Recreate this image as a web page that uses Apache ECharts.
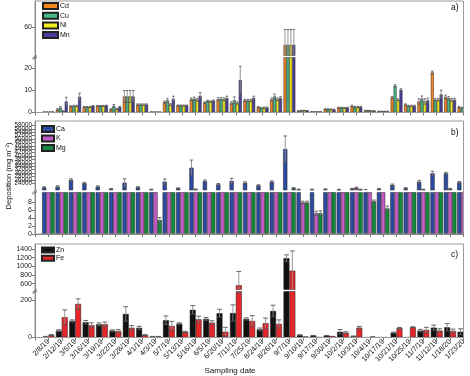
<!DOCTYPE html>
<html><head><meta charset="utf-8">
<script src="https://cdn.jsdelivr.net/npm/echarts@6/dist/echarts.min.js"></script>
<style>html,body{margin:0;padding:0;background:#fff}#c{width:470px;height:376px}</style>
</head><body><div id="c"></div>
<script>
// ---------- data ----------
const dates = ['2/8/19','2/12/19','3/5/19','3/16/19','3/19/19','3/22/19','3/28/19','4/1/19','4/3/19','5/7/19','5/13/19','5/16/19','6/5/19','6/20/19','7/11/19','7/25/19','8/24/19','8/26/19','9/7/19','9/10/19','9/17/19','9/30/19','10/2/19','10/3/19','10/4/19','10/17/19','10/21/19','10/25/19','11/7/19','11/12/19','1/18/20','1/23/20'];
const categories = [''].concat(dates);

// panel a (metals)
const cd = [0.2,1.3,2.8,2.5,3.0,1.4,7.3,3.6,0.2,4.7,3.2,6.0,4.5,6.0,4.3,5.5,2.4,5.9,52,0.7,0.4,1.5,2.2,3.0,0.9,0.5,6.8,3.6,5.0,18.2,7.1,2.4];
const cu = [0.2,2.2,3.0,2.5,3.0,3.0,7.3,3.6,0.2,5.5,3.2,6.3,5.3,6.2,5.6,5.5,2.0,7.3,52,0.9,0.3,1.5,2.2,2.5,0.9,0.5,12.1,3.0,6.3,5.8,6.5,2.1];
const ni = [0.2,0.6,3.0,2.5,3.0,1.5,7.3,3.6,0.2,3.6,3.2,5.8,5.0,6.0,4.3,5.5,2.2,6.0,52,0.9,0.3,1.4,2.1,2.5,0.8,0.5,5.8,3.0,5.0,5.8,5.8,13.0];
const mn = [0.3,5.0,7.2,3.0,3.1,2.5,7.3,3.6,0.2,6.2,3.2,7.6,5.4,6.6,14.8,6.6,2.2,6.6,52,0.8,0.3,1.3,2.2,2.5,0.7,0.5,10.3,3.0,5.5,8.2,5.8,6.0];
const cdErr = [0.05,0.4,0.3,0.2,0.2,0.3,2.7,0.3,0.05,0.5,0.2,0.6,0.3,0.7,0.6,0.5,0.3,0.6,7,0.1,0.05,0.2,0.2,0.3,0.1,0.1,0.4,0.3,1.2,0.6,0.8,0.3];
const cuErr = [0.05,0.6,0.3,0.2,0.2,0.6,2.7,0.3,0.05,0.8,0.2,0.7,0.3,0.5,1.5,0.5,0.3,1.1,7,0.1,0.05,0.2,0.2,0.3,0.1,0.1,0.5,0.3,1.2,0.5,0.7,0.3];
const niErr = [0.05,0.2,0.3,0.2,0.2,0.3,2.7,0.3,0.05,0.4,0.2,0.6,0.3,0.6,0.5,0.5,0.3,0.6,7,0.1,0.05,0.2,0.2,0.3,0.1,0.1,0.4,0.3,1.2,0.5,0.6,7.3];
const mnErr = [0.05,1.9,1.6,0.2,0.2,0.3,2.7,0.3,0.05,1.2,0.2,1.4,0.3,0.8,6.2,0.8,0.3,0.6,7,0.1,0.05,0.2,0.2,0.3,0.1,0.1,0.5,0.3,1.0,1.9,0.6,0.5];

// panel b (major ions)
const ca = [21500,22000,26000,24000,22000,20600,24300,21600,20300,24900,21000,33100,25300,23300,25300,24300,22700,24900,44100,20300,20300,20400,20200,20700,20100,20600,23000,21000,24900,29800,29800,24500];
const k  = [15,15,15,15,15,15,15,15,15,15,15,20300,15,15,15,15,15,15,15,7.9,5.2,15,15,21300,15,15,15,15,20200,15,20700,15];
const mg = [15,15,15,15,15,15,15,15,3.5,15,15,15,15,15,15,15,15,15,21000,7.9,5.2,15,15,20200,8.2,6.4,15,15,15,15,15,15];
const caErr = [400,500,600,500,400,300,2300,400,200,1600,300,4500,600,500,1600,500,400,500,7700,200,200,300,200,300,200,300,500,400,800,1200,600,500];
const kErr  = [0,0,0,0,0,0,0,0,0,0,0,300,0,0,0,0,0,0,0,0.3,0.5,0,0,300,0,0,0,0,300,0,300,0];
const mgErr = [0,0,0,0,0,0,0,0,0.6,0,0,0,0,0,0,0,0,0,400,0.3,0.6,0,0,300,0.3,0.6,0,0,0,0,0,0];

// panel c (Zn, Fe)
const zn = [4,37,89,82,71,37,127,52,5,93,75,149,100,131,132,100,44,143,1187,13,10,10,31,7,1,1,26,1,37,53,55,31];
const fe = [13,109,181,66,71,34,52,13,5,62,30,98,80,31,560,89,77,73,897,3,2,8,26,53,3,1,50,55,41,37,35,30];
const znErr = [2,5,6,10,8,4,39,8,1,23,4,23,8,21,44,6,7,31,76,2,1,1,12,1,0,0,3,0,7,14,20,16];
const feErr = [3,40,27,13,12,8,12,2,1,25,3,17,10,24,320,29,28,22,457,1,0,0,5,7,1,0,4,3,14,10,10,5];

// tick labels
const aLowLabels = [0,10,20], aLowMinor = [5,15];
const aUpLabels = [60], aUpMinor = [50,70];
const bLowLabels = [0,2,4,6,8], bLowMinor = [1,3,5,7,9];
const bUpLabels = [22000,24000,26000,28000,30000,32000,34000,36000,38000,40000,42000,44000,46000,48000,50000,52000,54000,56000,58000,60000];
const cLowLabels = [0,200], cLowMinor = [100];
const cUpLabels = [600,800,1000,1200,1400], cUpMinor = [500,700,900,1100,1300,1500];

// ---------- layout / style ----------
const FONT = 'Liberation Sans, Arial, sans-serif';
const panels = [
  {names:['Cd','Cu','Ni','Mn'], vals:[cd,cu,ni,mn], errs:[cdErr,cuErr,niErr,mnErr],
   colors:['#f7861e','#46b985','#f4ec1c','#4c3e9e'], gap:0.12,
   up:{top:1,bottom:55.5,min:47.2,max:72,labels:aUpLabels,minor:aUpMinor,fs:7},
   low:{top:57.5,bottom:112.5,min:0,max:25,labels:aLowLabels,minor:aLowMinor,fs:7},
   legend:{left:42,top:2,w:15,h:6,gap:1.7}, tag:'a)', xlab:false},
  {names:['Ca','K','Mg'], vals:[ca,k,mg], errs:[caErr,kErr,mgErr],
   colors:['#2c4ba3','#c45bc4','#13893b'], gap:0.06,
   up:{top:121,bottom:190,min:20000,max:60600,labels:bUpLabels,minor:[],fs:6.3},
   low:{top:192.5,bottom:234,min:0,max:10.4,labels:bLowLabels,minor:bLowMinor,fs:7},
   legend:{left:41,top:125,w:12,h:6,gap:1.5}, tag:'b)', xlab:false},
  {names:['Zn','Fe'], vals:[zn,fe], errs:[znErr,feErr],
   colors:['#111111','#e5262a'], gap:0.12,
   up:{top:244,bottom:289.5,min:463,max:1514,labels:cUpLabels,minor:cUpMinor,fs:7},
   low:{top:291.5,bottom:337.5,min:0,max:248,labels:cLowLabels,minor:cLowMinor,fs:7},
   legend:{left:41,top:246.5,w:12,h:5,gap:1.2}, tag:'c)', xlab:true}
];

const grid=[], xAxis=[], yAxis=[], series=[], legend=[], graphic=[];
const PLOT_L = 35, PLOT_R = 463.5;

function errRender(n, gapFrac){
  return function(params, api){
    const xi = api.value(0), v = api.value(1), e = api.value(2), j = api.value(3);
    const bw = api.size([1,0])[0];
    const gw = bw*(1-gapFrac);
    const w = gw/n;
    const p = api.coord([xi, v]);
    const x = p[0] - gw/2 + w*(j+0.5);
    const top = api.coord([xi, v+e])[1];
    const bot = api.coord([xi, v-e])[1];
    const cap = Math.max(1, w*0.4);
    return {type:'group', children:[
      {type:'line', shape:{x1:x,y1:top,x2:x,y2:bot}, style:{stroke:'#8a8a8a', lineWidth:0.9}},
      {type:'line', shape:{x1:x-cap,y1:top,x2:x+cap,y2:top}, style:{stroke:'#555', lineWidth:0.9}},
      {type:'line', shape:{x1:x-cap,y1:bot,x2:x+cap,y2:bot}, style:{stroke:'#555', lineWidth:0.9}}
    ]};
  };
}
const numFmt = function(v){ return String(v); };

panels.forEach(function(P, pi){
  ['up','low'].forEach(function(part){
    const S = P[part];
    const g = grid.length;
    grid.push({left:PLOT_L, right:470-PLOT_R, top:S.top, height:S.bottom-S.top});
    const isLow = part==='low';
    const xi = xAxis.length;
    xAxis.push({type:'category', gridIndex:g, data:categories, boundaryGap:false,
      axisLine:{show:isLow, lineStyle:{color:'#777', width:1}},
      axisTick:{show:isLow, length:3, interval:0, lineStyle:{color:'#777'}},
      axisLabel:{show:isLow && P.xlab, interval:0, rotate:45, fontSize:7.3, color:'#111', margin:3, fontFamily:FONT},
      splitLine:{show:false}});
    const yi = yAxis.length;
    yAxis.push({type:'value', gridIndex:g, min:S.min, max:S.max,
      axisLine:{show:true, lineStyle:{color:'#777', width:1}},
      axisTick:{show:true, length:3, customValues:S.labels, lineStyle:{color:'#777'}},
      axisLabel:{show:true, customValues:S.labels, formatter:numFmt, fontSize:S.fs, color:'#222', margin:3, fontFamily:FONT},
      splitLine:{show:false}});
    if (S.minor.length){
      yAxis.push({type:'value', gridIndex:g, min:S.min, max:S.max,
        axisLine:{show:false}, axisLabel:{show:false}, splitLine:{show:false},
        axisTick:{show:true, length:1.6, customValues:S.minor, lineStyle:{color:'#777'}}});
    }
    const n = P.names.length;
    const errData = [];
    P.names.forEach(function(name, j){
      series.push({type:'bar', name:name, xAxisIndex:xi, yAxisIndex:yi,
        data:['-'].concat(P.vals[j]), barGap:'0%', barCategoryGap:(P.gap*100)+'%', clip:true,
        itemStyle:{color:P.colors[j], borderColor:'#222', borderWidth:0.5}, animation:false});
      P.vals[j].forEach(function(v, c){
        const e = P.errs[j][c];
        if (e > 0) errData.push([c+1, v, e, j]);
      });
    });
    series.push({type:'custom', xAxisIndex:xi, yAxisIndex:yi, clip:true, silent:true,
      renderItem:errRender(n, P.gap), data:errData, encode:{x:0, y:1}, animation:false, z:5});
  });
  const L = P.legend;
  legend.push({data:P.names, orient:'vertical', left:L.left, top:L.top, padding:0,
    itemWidth:L.w, itemHeight:L.h, itemGap:L.gap, icon:'rect', selectedMode:false,
    textStyle:{fontSize:7, color:'#111', fontFamily:FONT, lineHeight:6, padding:[0,0,0,-3]}});
  // frame (drawn above the right-edge mask)
  graphic.push({type:'rect', silent:true, z:101,
    shape:{x:PLOT_L, y:P.up.top, width:PLOT_R-PLOT_L, height:P.low.bottom-P.up.top},
    style:{fill:'none', stroke:'#9a9a9a', lineWidth:1}});
  // break symbol
  const by = (P.up.bottom + P.low.top)/2;
  graphic.push({type:'line', silent:true, z:102, shape:{x1:32.5,y1:by+1.5,x2:37,y2:by-1}, style:{stroke:'#555',lineWidth:0.8}});
  graphic.push({type:'line', silent:true, z:102, shape:{x1:32.5,y1:by+3,x2:37,y2:by+0.5}, style:{stroke:'#555',lineWidth:0.8}});
  // panel tag
  graphic.push({type:'text', silent:true, z:102, left:451, top:P.up.top+(pi===0?2:(pi===1?7:6)),
    style:{text:P.tag, fontSize:8.5, fill:'#111', fontFamily:FONT}});
});
// white mask to the right of the plotting area (bars of the last category are cut at the frame)
graphic.push({type:'rect', silent:true, z:100, shape:{x:PLOT_R+0.5, y:0, width:470-PLOT_R, height:341}, style:{fill:'#fff'}});

graphic.push({type:'text', silent:true, x:230, y:371,
  style:{text:'Sampling date', fontSize:8, fill:'#111', fontFamily:FONT, align:'center', verticalAlign:'middle'}});
graphic.push({type:'text', silent:true, x:9, y:176, rotation:Math.PI/2,
  style:{text:'Deposition (mg m\u207B\u00B2)', fontSize:7.5, fill:'#111', fontFamily:FONT, align:'center', verticalAlign:'middle'}});

const chart = echarts.init(document.getElementById('c'), null, {renderer:'canvas'});
chart.setOption({animation:false, backgroundColor:'#fff', textStyle:{fontFamily:FONT},
  grid:grid, xAxis:xAxis, yAxis:yAxis, series:series, legend:legend, graphic:graphic});
</script></body></html>
